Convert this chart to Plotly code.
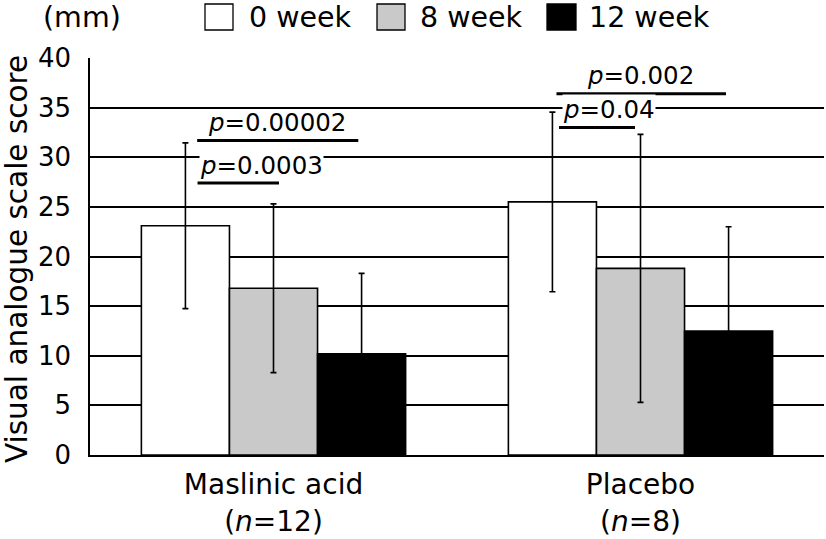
import plotly.graph_objects as go

# ---------------- data ----------------
groups = ["Maslinic acid<br>(<i>n</i>=12)", "Placebo<br>(<i>n</i>=8)"]
weeks = ["0 week", "8 week", "12 week"]
mean_0wk = [23.1, 25.5]
mean_8wk = [16.8, 18.8]
mean_12wk = [10.2, 12.5]
sd_0wk = [8.35, 9.05]
sd_8wk = [8.5, 13.5]
sd_12wk = [8.1, 10.5]

p_labels = ["0.0003", "0.00002", "0.04", "0.002"]
p_heights = [27.4, 31.7, 33.0, 36.4]

y_ticks = [0, 5, 10, 15, 20, 25, 30, 35, 40]

# ---------------- style ----------------
FONT = "DejaVu Sans, Verdana, sans-serif"
fills = ["#ffffff", "#c9c9c9", "#000000"]
W, H = 826, 539
L, R, T, B = 90, 2, 58, 84
PW, PH = W - L - R, H - T - B


def px_x(p):
    return (p - L) / PW


def px_y(p):
    return (H - B - p) / PH


fig = go.Figure()
for name, m, s, c in zip(weeks, [mean_0wk, mean_8wk, mean_12wk],
                         [sd_0wk, sd_8wk, sd_12wk], fills):
    fig.add_trace(go.Bar(
        x=groups, y=m, name=name,
        marker=dict(color=c, line=dict(color="black", width=1.6)),
        error_y=dict(type="data", array=s, visible=True, color="black",
                     thickness=1.6, width=3),
        showlegend=False,
    ))

# significance brackets (category index coordinates)
bracket_x = [(-0.207, 0.015), (-0.208, 0.231), (0.778, 0.985), (0.771, 1.233)]
text_x = [(-0.207, "left", 0.004), (0.009, "center", 0), (0.778, "left", 0.008), (1.001, "center", 0)]
text_bg = ["white", None, "white", None]
for (x0, x1), yv in zip(bracket_x, p_heights):
    fig.add_shape(type="line", xref="x", yref="y", x0=x0, x1=x1, y0=yv, y1=yv,
                  line=dict(color="black", width=3))
for lab, yv, (tx, anc, dx), bg in zip(p_labels, p_heights, text_x, text_bg):
    fig.add_annotation(xref="x", yref="y", x=tx + dx, y=yv, xanchor=anc,
                       yanchor="middle", yshift=18, showarrow=False,
                       text=f"<i>p</i>={lab}", bgcolor=bg, borderpad=0,
                       font=dict(family=FONT, size=24.5, color="black"))

# manual legend
box_px = [(205, 233), (377, 405), (547, 576)]
text_px = [250, 421, 590]
for (bx0, bx1), tx, c, name in zip(box_px, text_px, fills, weeks):
    fig.add_shape(type="rect", xref="paper", yref="paper",
                  x0=px_x(bx0), x1=px_x(bx1), y0=px_y(30), y1=px_y(4),
                  fillcolor=c, line=dict(color="black", width=1.3))
    fig.add_annotation(xref="paper", yref="paper", x=px_x(tx - 3), y=px_y(17),
                       xanchor="left", yanchor="middle", showarrow=False,
                       text=name, font=dict(family=FONT, size=28.5, color="black"))
fig.add_annotation(xref="paper", yref="paper", x=px_x(82), y=px_y(17),
                   xanchor="center", yanchor="middle", showarrow=False,
                   text="(mm)", font=dict(family=FONT, size=28.5, color="black"))

# y-axis title
fig.add_annotation(xref="paper", yref="paper", x=px_x(17), y=px_y(259),
                   xanchor="center", yanchor="middle", showarrow=False,
                   textangle=-90, text="Visual analogue scale score",
                   font=dict(family=FONT, size=29.5, color="black"))

fig.update_layout(
    width=W, height=H,
    margin=dict(l=L, r=R, t=T, b=B, pad=0),
    paper_bgcolor="white", plot_bgcolor="white",
    barmode="group", bargap=0.28, bargroupgap=0,
    showlegend=False,
    font=dict(family=FONT, color="black"),
)
fig.update_xaxes(
    showline=True, linecolor="black", linewidth=1.6, showgrid=False,
    ticks="", tickfont=dict(family=FONT, size=28, color="black"),
    ticklabelstandoff=4, automargin=False,
)
fig.update_yaxes(
    range=[0, 40], tickvals=y_ticks, showline=True, linecolor="black",
    linewidth=1.6, showgrid=True, gridcolor="black", gridwidth=1.6,
    zeroline=False, ticks="", tickfont=dict(family=FONT, size=26, color="black"),
    ticklabelstandoff=12, automargin=False,
)

fig.write_html("out.html", config={"displayModeBar": False},
               post_script="document.body.style.margin='0';document.body.style.overflow='hidden';")
